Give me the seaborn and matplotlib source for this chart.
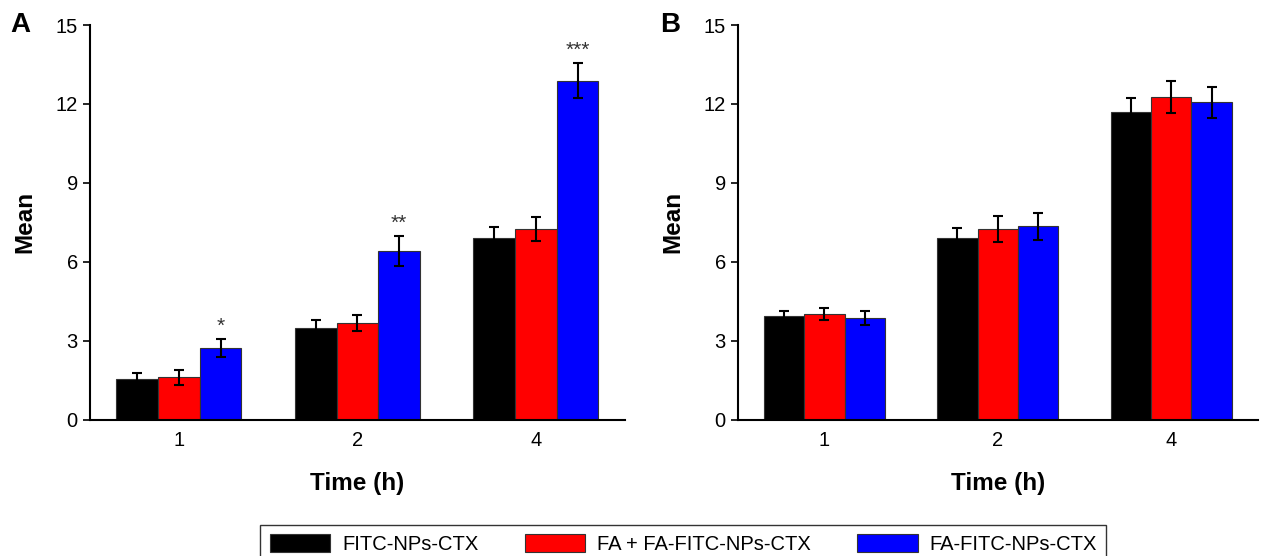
import numpy as np
import pandas as pd
import seaborn as sns
import matplotlib.pyplot as plt

# значения
times = ["1", "2", "4"]
groups = ["FITC-NPs-CTX", "FA + FA-FITC-NPs-CTX", "FA-FITC-NPs-CTX"]
colors = ["#000000", "#ff0000", "#0000ff"]

mean_a = {
    "FITC-NPs-CTX": [1.55, 3.48, 6.90],
    "FA + FA-FITC-NPs-CTX": [1.61, 3.68, 7.25],
    "FA-FITC-NPs-CTX": [2.73, 6.43, 12.89],
}
err_a = {
    "FITC-NPs-CTX": [0.23, 0.33, 0.43],
    "FA + FA-FITC-NPs-CTX": [0.29, 0.32, 0.47],
    "FA-FITC-NPs-CTX": [0.34, 0.57, 0.65],
}
stars_a = ["*", "**", "***"]

mean_b = {
    "FITC-NPs-CTX": [3.93, 6.92, 11.70],
    "FA + FA-FITC-NPs-CTX": [4.02, 7.25, 12.26],
    "FA-FITC-NPs-CTX": [3.86, 7.36, 12.06],
}
err_b = {
    "FITC-NPs-CTX": [0.22, 0.36, 0.53],
    "FA + FA-FITC-NPs-CTX": [0.23, 0.50, 0.62],
    "FA-FITC-NPs-CTX": [0.26, 0.51, 0.60],
}

sns.set_style("ticks")
plt.rcParams['font.family'] = ['Liberation Sans', 'DejaVu Sans']
plt.rcParams['text.color'] = 'black'
plt.rcParams['axes.labelcolor'] = 'black'
plt.rcParams['xtick.color'] = 'black'
plt.rcParams['ytick.color'] = 'black'
plt.rcParams['axes.edgecolor'] = 'black'


def to_frame(means):
    rows = []
    for g in groups:
        for t, v in zip(times, means[g]):
            rows.append({"time": t, "group": g, "mean": v})
    return pd.DataFrame(rows)


def draw_panel(ax, means, errs, letter, stars=None):
    df = to_frame(means)
    sns.barplot(data=df, x="time", y="mean", hue="group", order=times,
                hue_order=groups, palette=colors, width=0.7, errorbar=None,
                edgecolor="#333333", linewidth=0.8, saturation=1,
                legend=False, ax=ax)
    # планки погрешностей
    for g, cont in zip(groups, ax.containers):
        xs = [b.get_x() + b.get_width() / 2 for b in cont]
        ax.errorbar(xs, means[g], yerr=errs[g], fmt="none", ecolor="black",
                    elinewidth=1.5, capsize=3.5, capthick=1.5, zorder=5)
        if stars is not None and g == groups[-1]:
            for x, v, e, s in zip(xs, means[g], errs[g], stars):
                ax.text(x, v + e + 0.12, s, ha="center", va="bottom",
                        fontsize=15, color="#333333")
    ax.set_ylim(0, 15)
    ax.set_xlim(-0.5, 2.5)
    ax.set_yticks([0, 3, 6, 9, 12, 15])
    ax.tick_params(axis="y", direction="out", length=5, width=1.2,
                   labelsize=14.5)
    ax.tick_params(axis="x", direction="in", length=7, width=1.2,
                   labelsize=14.5, pad=8)
    ax.set_xlabel("Time (h)", fontsize=17.5, fontweight="bold", labelpad=16)
    ax.set_ylabel("Mean", fontsize=17.5, fontweight="bold", labelpad=14)
    for sp in ["left", "bottom"]:
        ax.spines[sp].set_linewidth(1.5)
    sns.despine(ax=ax)
    ax.text(-0.148, 1.0, letter, transform=ax.transAxes, fontsize=20,
            fontweight="bold", ha="left", va="center")


fig = plt.figure(figsize=(12.63, 5.56), dpi=100)
ax_a = fig.add_axes([0.071, 0.245, 0.424, 0.71])
ax_b = fig.add_axes([0.584, 0.245, 0.412, 0.71])

draw_panel(ax_a, mean_a, err_a, "A", stars_a)
draw_panel(ax_b, mean_b, err_b, "B")

handles = [plt.Rectangle((0, 0), 1, 1, facecolor=c, edgecolor="#333333",
                         linewidth=0.8) for c in colors]
leg = fig.legend(handles, groups, loc="lower center",
                 bbox_to_anchor=(0.541, -0.012), ncol=3, fontsize=14.5,
                 frameon=True, fancybox=False, edgecolor="black",
                 handlelength=3.0, handleheight=1.0, columnspacing=2.3,
                 handletextpad=0.6, borderpad=0.45, borderaxespad=0.0)
leg.get_frame().set_linewidth(1.0)

fig.savefig("out.png", dpi=100)
